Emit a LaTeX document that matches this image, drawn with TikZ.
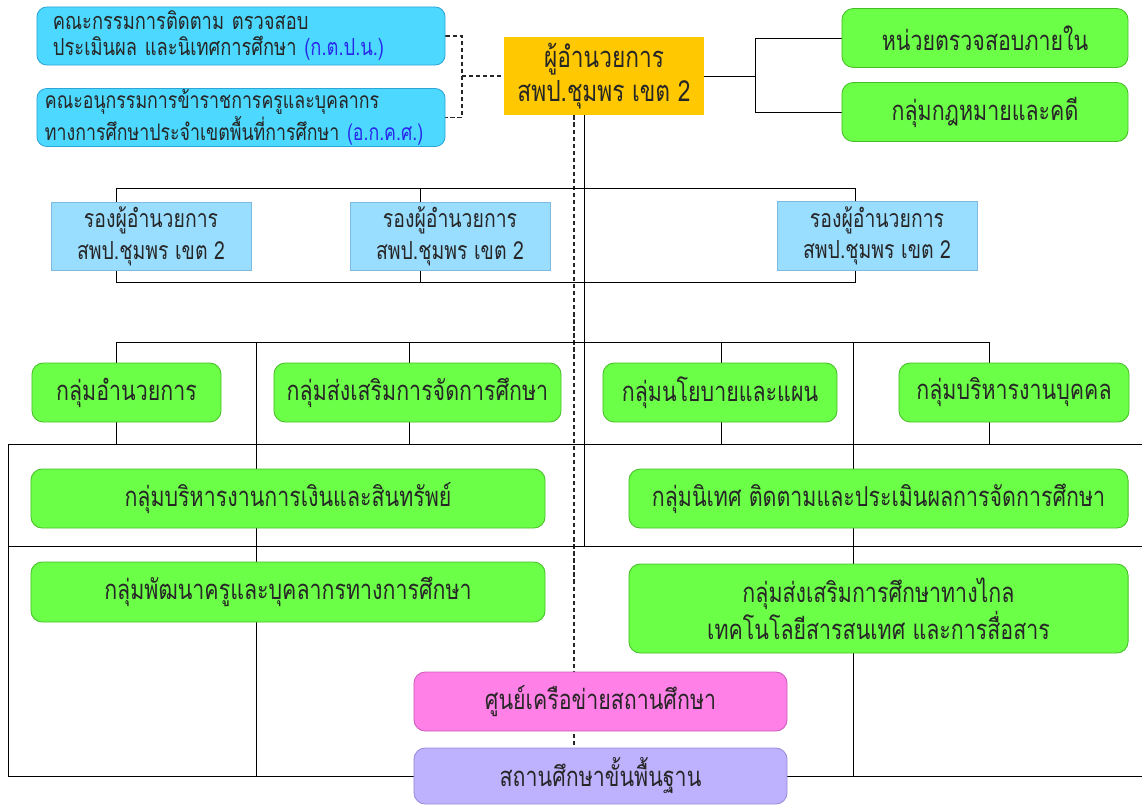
\documentclass[tikz,border=0pt]{standalone}
\usepackage{fontspec}
\newfontfamily\thai[Script=Thai,FakeStretch=0.78]{Loma}
\usetikzlibrary{backgrounds}
\definecolor{comcyan}{RGB}{77,216,255}
\definecolor{comedge}{RGB}{45,165,215}
\definecolor{chiefgold}{RGB}{255,200,0}
\definecolor{depblue}{RGB}{153,221,255}
\definecolor{depedge}{RGB}{125,185,225}
\definecolor{grpgreen}{RGB}{108,255,72}
\definecolor{grpedge}{RGB}{70,190,40}
\definecolor{netpink}{RGB}{255,128,230}
\definecolor{netedge}{RGB}{205,90,185}
\definecolor{schoolpurple}{RGB}{190,178,255}
\definecolor{schooledge}{RGB}{150,140,220}
\definecolor{abbr}{RGB}{40,40,235}
\tikzset{
  box/.style={inner sep=0pt, align=center, text=black!85, line width=0.6pt},
  com/.style={box, draw=comedge, fill=comcyan, rounded corners=7pt,
    minimum width=10.2cm, minimum height=1.45cm, align=left,
    font=\thai\fontsize{16.7}{18.5}\selectfont},
  chief/.style={box, fill=chiefgold, minimum width=5cm, minimum height=1.95cm,
    font=\thai\fontsize{20.7}{24}\selectfont},
  deputy/.style={box, draw=depedge, fill=depblue, minimum width=5cm,
    minimum height=1.72cm, font=\thai\fontsize{17.7}{22.5}\selectfont},
  grp/.style={box, draw=grpedge, fill=grpgreen, rounded corners=8pt,
    minimum height=1.475cm, font=\thai\fontsize{19.5}{23.5}\selectfont},
  netbox/.style={grp, draw=netedge, fill=netpink},
  schoolbox/.style={grp, draw=schooledge, fill=schoolpurple},
  link/.style={line width=0.9pt, draw=black!85},
  dlink/.style={link, dash pattern=on 3pt off 2pt},
}
\begin{document}
\begin{tikzpicture}[x=0.025cm, y=-0.025cm]
  \useasboundingbox (0,0) rectangle (1142,805);
  \draw
    (241,36) node[com, inner xsep=0.4cm, text width=9.4cm] (comA)
      {คณะกรรมการติดตาม ตรวจสอบ\\ประเมินผล และนิเทศการศึกษา {\color{abbr}(ก.ต.ป.น.)}}
    (241,117.5) node[com, inner xsep=0.2cm, text width=9.8cm,
        font=\thai\fontsize{16.2}{18.5}\selectfont] (comB)
      {คณะอนุกรรมการข้าราชการครูและบุคลากร\\ทางการศึกษาประจำเขตพื้นที่การศึกษา {\color{abbr}(อ.ก.ค.ศ.)}}
    (604,76) node[chief] (dir) {ผู้อำนวยการ\\สพป.ชุมพร เขต 2}
    (985,38) node[grp, minimum width=7.15cm] (audit) {หน่วยตรวจสอบภายใน}
    (985,112) node[grp, minimum width=7.15cm] (law) {กลุ่มกฎหมายและคดี};
  \draw
    (151,236.5) node[deputy] (dep1) {รองผู้อำนวยการ\\สพป.ชุมพร เขต 2}
    (450,236.5) node[deputy] (dep2) {รองผู้อำนวยการ\\สพป.ชุมพร เขต 2}
    (877,236) node[deputy] (dep3) {รองผู้อำนวยการ\\สพป.ชุมพร เขต 2};
  \draw
    (126.5,392.5) node[grp, minimum width=4.725cm] (admin) {กลุ่มอำนวยการ}
    (417.5,392.5) node[grp, minimum width=7.175cm] (promote) {กลุ่มส่งเสริมการจัดการศึกษา}
    (720,392.5) node[grp, minimum width=5.85cm] (policy) {กลุ่มนโยบายและแผน}
    (1014,392.5) node[grp, minimum width=5.75cm] (staff) {กลุ่มบริหารงานบุคคล}
    (288,498.5) node[grp, minimum width=12.85cm] (finance) {กลุ่มบริหารงานการเงินและสินทรัพย์}
    (878.5,498.5) node[grp, minimum width=12.475cm] (supervise) {กลุ่มนิเทศ ติดตามและประเมินผลการจัดการศึกษา}
    (288,592) node[grp, minimum width=12.85cm, minimum height=1.5cm] (teacher) {กลุ่มพัฒนาครูและบุคลากรทางการศึกษา}
    (878.5,608.5) node[grp, minimum width=12.475cm, minimum height=2.225cm] (distance)
      {กลุ่มส่งเสริมการศึกษาทางไกล\\เทคโนโลยีสารสนเทศ และการสื่อสาร}
    (600.5,701.5) node[netbox, minimum width=9.325cm] (net) {ศูนย์เครือข่ายสถานศึกษา}
    (600.5,776) node[schoolbox, minimum width=9.325cm, minimum height=1.4cm] (school) {สถานศึกษาขั้นพื้นฐาน};
  \begin{scope}[on background layer, link]
    % committees and director
    \coordinate (brk) at (462,76);
    \draw[dlink] (comA.east) -| (brk) |- (comB.east);
    \draw[dlink] (brk) -- (dir.west);
    \coordinate (rjn) at (755,76);
    \draw (audit.west) -| (rjn) |- (law.west);
    \draw (dir.east) -- (rjn);
    % trunk lines
    \coordinate (rowC) at (8,546);
    \draw[dlink] (dir.south) ++(-30,0) coordinate (dtop) -- (dtop |- school.north);
    \draw (dir.south) ++(-20,0) coordinate (stop) -- (stop |- rowC);
    % deputies
    \coordinate (depL) at (116,188);
    \coordinate (depR) at (855,282);
    \coordinate (dep2x) at (420,188);
    \draw (depL) rectangle (depR);
    \draw (dep2x) -- (dep2x |- depR);
    % groups
    \coordinate (grpL) at (116,342);
    \coordinate (grpR) at (989,444);
    \coordinate (grp2x) at (409,342);
    \coordinate (grp3x) at (721,342);
    \draw (grpL |- grpR) -- (grpL) -- (grpL -| grpR) -- (grpR);
    \draw (grp2x) -- (grp2x |- grpR);
    \draw (grp3x) -- (grp3x |- grpR);
    % grid below
    \coordinate (gridTL) at (8,444);
    \coordinate (gridBR) at (1142,776);
    \coordinate (colL) at (256,342);
    \coordinate (colR) at (853,342);
    \draw (gridTL -| gridBR) -- (gridTL) |- (gridBR);
    \draw (rowC) -- (rowC -| gridBR);
    \draw (colL) -- (colL |- gridBR);
    \draw (colR) -- (colR |- gridBR);
  \end{scope}
\end{tikzpicture}
\end{document}
